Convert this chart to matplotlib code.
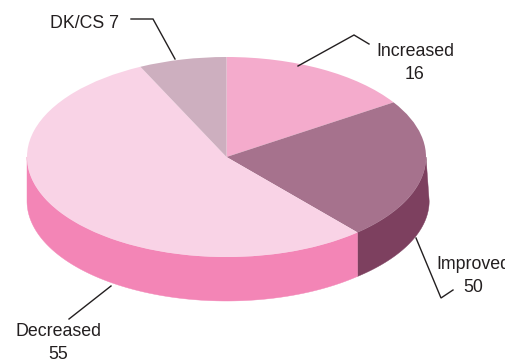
import numpy as np
import matplotlib
matplotlib.use("Agg")
import matplotlib.pyplot as plt

categories = ["Increased", "Improved", "Decreased", "DK/CS"]
label_values = [16, 50, 55, 7]
# Slice sizes as drawn in the picture (percent of the pie)
drawn_shares = [15.8, 22.8, 54.3, 7.1]
top_colors = ["#F4ABCC", "#A6728D", "#F9D3E6", "#CDAFBF"]
wall_colors = ["#F4ABCC", "#7D405F", "#F385B6", "#CDAFBF"]

W, H = 506, 360
CX, CY, RX, RY, DEPTH = 226.5, 157.0, 199.5, 100.0, 44.0
TEXT = "#231F20"
plt.rcParams["font.family"] = ["Liberation Sans", "DejaVu Sans"]

fig = plt.figure(figsize=(W / 100, H / 100), dpi=100, facecolor="white")
ax = fig.add_axes([0, 0, 1, 1])


def px(x, y):
    return (x - CX) / RX, (CY - y) / RY


# Side walls: drawn clockwise from the top of the pie
edges = 90 - np.cumsum([0] + drawn_shares) * 3.6
depth_u = DEPTH / RY
for i in range(len(categories)):
    a0, a1 = edges[i], edges[i + 1]
    lo, hi = max(a1, -180), min(a0, 0)
    if hi <= lo:
        continue
    t = np.radians(np.linspace(hi, lo, 120))
    xs = np.cos(t)
    top = np.sin(t)
    xs_low = xs + 0.016 * np.clip((np.cos(t) - 0.65) / 0.35, 0, 1)
    ax.fill(np.r_[xs, xs_low[::-1]], np.r_[top, (top - depth_u)[::-1]],
            color=wall_colors[i], lw=0.3, zorder=1)

ax.pie(drawn_shares, colors=top_colors, startangle=90, counterclock=False,
       radius=1.0, center=(0, 0), wedgeprops=dict(linewidth=0))
for p in ax.patches:
    p.set_zorder(2)

ax.set_aspect("auto")
ax.set_xlim(*[px(0, 0)[0], px(W, 0)[0]])
ax.set_ylim(px(0, H)[1], px(0, 0)[1])
ax.axis("off")

leaders = [
    [(298, 66), (354, 35), (369, 44)],
    [(416, 238), (441, 298), (453, 290)],
    [(111, 286), (69, 319)],
    [(175, 59), (153, 19), (131, 19)],
]
for pts in leaders:
    d = np.array([px(*p) for p in pts])
    ax.plot(d[:, 0], d[:, 1], color=TEXT, lw=1.0, zorder=3, solid_joinstyle="miter")

label_pos = [(415, 63), (473, 276), (58, 343), (84, 23)]
for name, val, (x, y) in zip(categories, label_values, label_pos):
    s = f"{name} {val}" if name == "DK/CS" else f"{name}\n{val}"
    ax.text(*px(x, y), s, ha="center", va="center", fontsize=12.8, color=TEXT,
            linespacing=1.5, zorder=4, clip_on=False)

fig.savefig("out.png", dpi=100, facecolor="white")
